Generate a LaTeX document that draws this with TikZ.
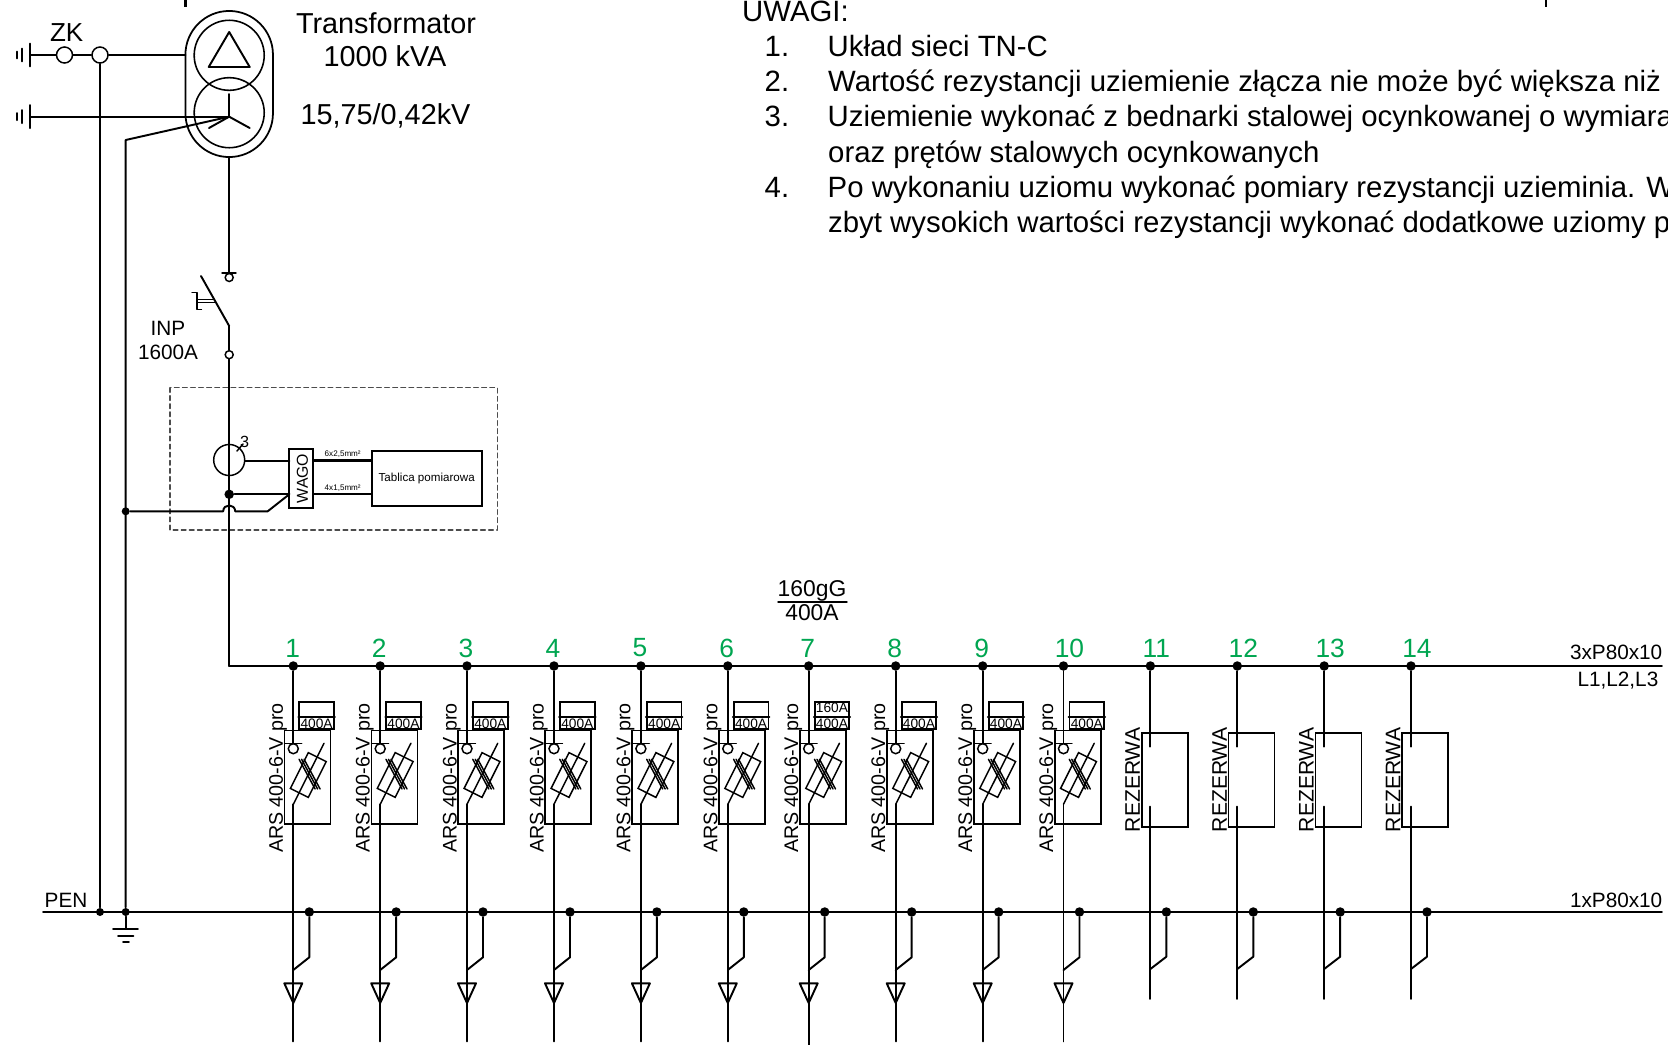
\documentclass[tikz,border=0pt]{standalone}
\usepackage{fontspec}
\setmainfont{Liberation Sans}
\usepackage{xcolor}
\usetikzlibrary{shapes.geometric, positioning}
\definecolor{numgreen}{HTML}{00A651}
\newcommand{\fsize}[1]{\fontsize{#1}{#1}\selectfont}
\tikzset{
  wire/.style={line width=0.55pt, line cap=round, line join=round},
  hair/.style={line width=0.42pt, line cap=round, line join=round},
  dotnode/.style={circle, fill=black, draw=none, inner sep=0pt, minimum size=0.095cm},
  smalldot/.style={circle, fill=black, draw=none, inner sep=0pt, minimum size=0.08cm},
  ring/.style={circle, draw, fill=white, line width=0.42pt, inner sep=0pt},
  txt/.style={inner sep=0pt, font=\fsize{8.2}},
  lbl/.style={inner sep=0pt, font=\fsize{5.9}},
  vlbl/.style={inner sep=0pt, rotate=90, font=\fsize{5.6}},
  num/.style={inner sep=0pt, text=numgreen, font=\fsize{7.5}},
  note/.style={inner sep=0pt, anchor=base west, font=\fsize{8.35}},
  box/.style={draw, line width=0.5pt, inner sep=0pt}
}

\begin{document}
\begin{tikzpicture}[x=0.01cm, y=-0.01cm]
  \useasboundingbox (0,0) rectangle (1668,1045);
  \clip (0,0) rectangle (1668,1045);
  \fill[white] (0,0) rectangle (1668,1045);

  % transformer
  \node[box, rounded corners=0.4375cm, minimum width=0.875cm, minimum height=1.46cm] (trafo) at (229.2,84) {};
  \node[circle, draw, line width=0.45pt, inner sep=0pt, minimum size=0.70cm] (prim) at (229.2,55.3) {};
  \node[circle, draw, line width=0.45pt, inner sep=0pt, minimum size=0.70cm] (sec) at (229.2,112.7) {};
  \draw[wire] (229.2,32) -- (249.7,67) -- (208.7,67) -- cycle;
  \coordinate (star) at (229.2,116.7);
  \draw[wire] (star) -- (229.2,94);
  \draw[wire] (star) -- (209,128);
  \draw[wire] (star) -- (249.7,128);
  \node[txt] (tname) at (386,23) {Transformator};
  \node[txt] (tpow) at (385,56) {1000 kVA};
  \node[txt] (tvolt) at (385.5,116) {15,75/0,42kV};

  % stubs at the top edge
  \coordinate (stuba) at (185.5,0);
  \coordinate (stubb) at (1546,0);
  \draw[line width=0.75pt] (stuba) -- ++(0,7);
  \draw[line width=0.75pt] (stubb) -- ++(0,7);

  % earthed inputs
  \foreach \yy in {55,116.7} {
    \draw[wire] (30,\yy-11.5) -- (30,\yy+11.5);
    \draw[wire] (22,\yy-6.5) -- (22,\yy+6.5);
    \draw[wire] (17,\yy-3.5) -- (17,\yy+3.5);
  }
  \node[ring, minimum size=0.16cm] (zka) at (64.5,55) {};
  \node[ring, minimum size=0.16cm] (zkb) at (100,55) {};
  \node[txt, font=\fsize{7.4}] (zk) at (66.7,32.7) {ZK};
  \coordinate (ina) at (30,55);
  \coordinate (inb) at (30,116.7);
  \coordinate (trafow) at (185.5,55);
  \draw[wire] (ina) -- (zka);
  \draw[wire] (zka) -- (zkb);
  \draw[wire] (zkb) -- (trafow);
  \draw[wire] (inb) -- (star);

  % busbars
  \coordinate (buss) at (229.2,666);
  \coordinate (buse) at (1662,666);
  \coordinate (pens) at (43,912);
  \coordinate (pene) at (1662,912);
  \draw[wire] (buss) -- (buse);
  \draw[wire] (pens) -- (pene);
  \node[lbl, anchor=east] (busa) at (1663,652) {3xP80x10};
  \node[lbl, anchor=east] (busb) at (1659,681) {L1,L2,L3};
  \node[lbl, anchor=east] (penb) at (1663,900) {1xP80x10};
  \node[lbl] (pen) at (66,900.5) {PEN};
  \node[lbl, font=\fsize{6.5}] (fuse) at (812,590.5) {160gG};
  \node[lbl, font=\fsize{6.5}] (fusea) at (812,613) {400A};
  \coordinate (fusel) at (778,602);
  \coordinate (fuser) at (847,602);
  \draw[hair] (fusel) -- (fuser);

  % PEN risers and earth
  \node[smalldot] (pena) at (100,912) {};
  \node[smalldot] (penc) at (125.7,912) {};
  \coordinate (risetop) at (125.7,140);
  \coordinate (earth) at (125.7,929);
  \draw[wire] (zkb) -- (pena);
  \draw[wire] (star) -- (risetop) -- (penc);
  \draw[wire] (penc) -- (earth);
  \draw[wire] (113,929) -- (138,929);
  \draw[wire] (118,935.7) -- (133.5,935.7);
  \draw[wire] (123,941.7) -- (129,941.7);

  % main switch
  \coordinate (swtop) at (229.2,273);
  \coordinate (swmid) at (229.2,326);
  \node[ring, minimum size=0.08cm] (swc) at (229.2,277.5) {};
  \node[ring, minimum size=0.08cm] (swd) at (229.2,354.7) {};
  \draw[wire] (trafo.south) -- (swtop);
  \draw[hair] (222,273) -- (236,273);
  \draw[wire] (201,276) -- (swmid);
  \draw[wire] (swmid) -- (swd);
  \draw[hair] (197,299.7) -- (213,299.7);
  \draw[hair] (197,302.3) -- (215,302.3);
  \draw[hair] (192,292.7) -- (197,292.7) -- (197,309.7) -- (201.5,309.7);
  \node[lbl] (inp) at (168,328) {INP};
  \node[lbl] (inpa) at (168,352) {1600A};

  % metering
  \draw[hair, gray!60!black, dash pattern=on 1.3pt off 1pt] (170,387.7) rectangle (497.3,530);
  \node[circle, draw, line width=0.42pt, inner sep=0pt, minimum size=0.31cm] (ct) at (229.2,460) {};
  \node[inner sep=0pt, font=\fsize{4.6}] (ctn) at (244.5,441.5) {3};
  \draw[hair] (237,451) -- (243,444);
  \node[box, minimum width=0.24cm, minimum height=0.59cm] (wago) at (301.3,478.5) {};
  \node[inner sep=0pt, rotate=90, font=\fsize{4.5}] (wagot) at (302.5,478.5) {WAGO};
  \node[box, minimum width=1.10cm, minimum height=0.55cm] (tab) at (426.7,478.2) {};
  \node[inner sep=0pt, font=\fsize{3.3}] (tabt) at (426.7,478) {Tablica pomiarowa};
  \node[inner sep=0pt, font=\fsize{2.3}] (ca) at (342.7,454.3) {6x2,5mm²};
  \node[inner sep=0pt, font=\fsize{2.3}] (cb) at (342.7,488.3) {4x1,5mm²};
  \node[dotnode] (jn) at (229.2,494.3) {};
  \node[smalldot] (jp) at (125.7,511.3) {};
  \coordinate (wa) at (ct.east);
  \coordinate (wb) at (289.3,460.7);
  \coordinate (wc) at (289.3,494.3);
  \coordinate (wd) at (313.3,460.7);
  \coordinate (we) at (371.7,460.7);
  \coordinate (wf) at (313.3,494.3);
  \coordinate (wg) at (371.7,494.3);
  \draw[wire] (wa |- wb) -- (wb);
  \draw[wire] (jn) -- (wc);
  \draw[line width=0.7pt] (wd) -- (we);
  \draw[wire] (wf) -- (wg);
  \draw[wire] (jp) -- (223.2,511.3) .. controls (223.2,503.5) and (235.2,503.5) .. (235.2,511.3) -- (267.7,511.3) -- (wc);
  \draw[wire] (swd) -- (buss);

  % fused outgoing feeders
  \foreach \n/\cx/\dx in {1/293.3/-0.5,2/380.2/-1,3/467/-1,4/554/-1,5/640.9/-1,6/727.8/-1,7/808.7/-1,8/895.7/-1,9/982.7/-1,10/1063.5/6} {
    \node[dotnode] (bus\n) at (\cx,666) {};
    \node[dotnode] (tap\n) at (\cx+16,912) {};
    \node[num] (num\n) at (\cx+\dx,648) {\n};
    \node[box, minimum width=0.46cm, minimum height=0.936cm] (ars\n) at (\cx+14.3,777.4) {};
    \node[box, minimum width=0.347cm, minimum height=0.273cm] (lab\n) at (\cx+23.3,715.6) {};
    \node[inner sep=0pt, font=\fsize{3.9}] (amp\n) at (\cx+23.3,724) {400A};
    \node[vlbl] (typ\n) at (\cx-15.3,778) {ARS 400-6-V pro};
    \node[ring, minimum size=0.10cm] (cont\n) at (\cx,748.7) {};
    \node[draw, line width=0.42pt, inner sep=0pt, minimum width=0.40cm, minimum height=0.20cm, rotate=63.4] (fl\n) at (\cx+15,775) {};
    \coordinate (bl\n) at (\cx,804.3);
    \coordinate (end\n) at (\cx,1041.5);
    \draw[wire] (lab\n.west |- 0,716.7) -- (lab\n.east |- 0,716.7);
    \draw[wire] (bus\n) -- (\cx,743.3);
    \draw[hair] (\cx-8.7,743.3) -- (\cx+8.4,743.3);
    \draw[hair] (bl\n) -- (\cx+30.7,743.3);
    \foreach \off in {-2.5,0,2.5}
      \draw[hair] (\cx+8.3+\off,759.3) -- (\cx+24.3+\off,789);
    \draw[wire] (bl\n) -- (end\n);
    \draw[wire] (\cx-9,983.3) -- (\cx+9,983.3) -- (\cx,1003) -- cycle;
    \draw[wire] (tap\n) -- (\cx+16,957.3) -- (\cx,970);
  }
  \node[inner sep=0pt, font=\fsize{3.9}] (ampb) at (832,707.7) {160A};
  \coordinate (endx) at (808.7,1045);
  \draw[wire] (end7) -- (endx);

  % spare feeders
  \foreach \n/\cx in {11/1150.4,12/1237.3,13/1324.2,14/1411} {
    \node[dotnode] (bus\n) at (\cx,666) {};
    \node[dotnode] (tap\n) at (\cx+16,912) {};
    \node[num] (num\n) at (\cx+6,648) {\n};
    \node[box, minimum width=0.46cm, minimum height=0.934cm] (res\n) at (\cx+14.3,780) {};
    \node[vlbl, font=\fsize{6}] (typ\n) at (\cx-17.8,780) {REZERWA};
    \coordinate (up\n) at (\cx,746.7);
    \coordinate (lo\n) at (\cx,806.7);
    \coordinate (end\n) at (\cx,999);
    \draw[wire] (bus\n) -- (up\n);
    \draw[wire] (lo\n) -- (end\n);
    \draw[wire] (tap\n) -- (\cx+16,956.7) -- (\cx,969);
  }

  % notes
  \node[note] (uw) at (741.5,21) {UWAGI:};
  \node[note] (na) at (764,56) {1.};
  \node[note] (nb) at (764,91) {2.};
  \node[note] (nc) at (764,126) {3.};
  \node[note] (nd) at (764,197) {4.};
  \node[note] (ta) at (827,56) {Układ sieci TN-C};
  \node[note] (tb) at (827.5,91) {Wartość rezystancji uziemienie złącza nie może być większa niż};
  \node[note] (tc) at (827,126) {Uziemienie wykonać z bednarki stalowej ocynkowanej o wymiara};
  \node[note] (td) at (827.5,162) {oraz prętów stalowych ocynkowanych};
  \node[note] (te) at (827,197) {Po wykonaniu uziomu wykonać pomiary rezystancji uzieminia. W};
  \node[note] (tf) at (827.5,232) {zbyt wysokich wartości rezystancji wykonać dodatkowe uziomy p};
\end{tikzpicture}
\end{document}
